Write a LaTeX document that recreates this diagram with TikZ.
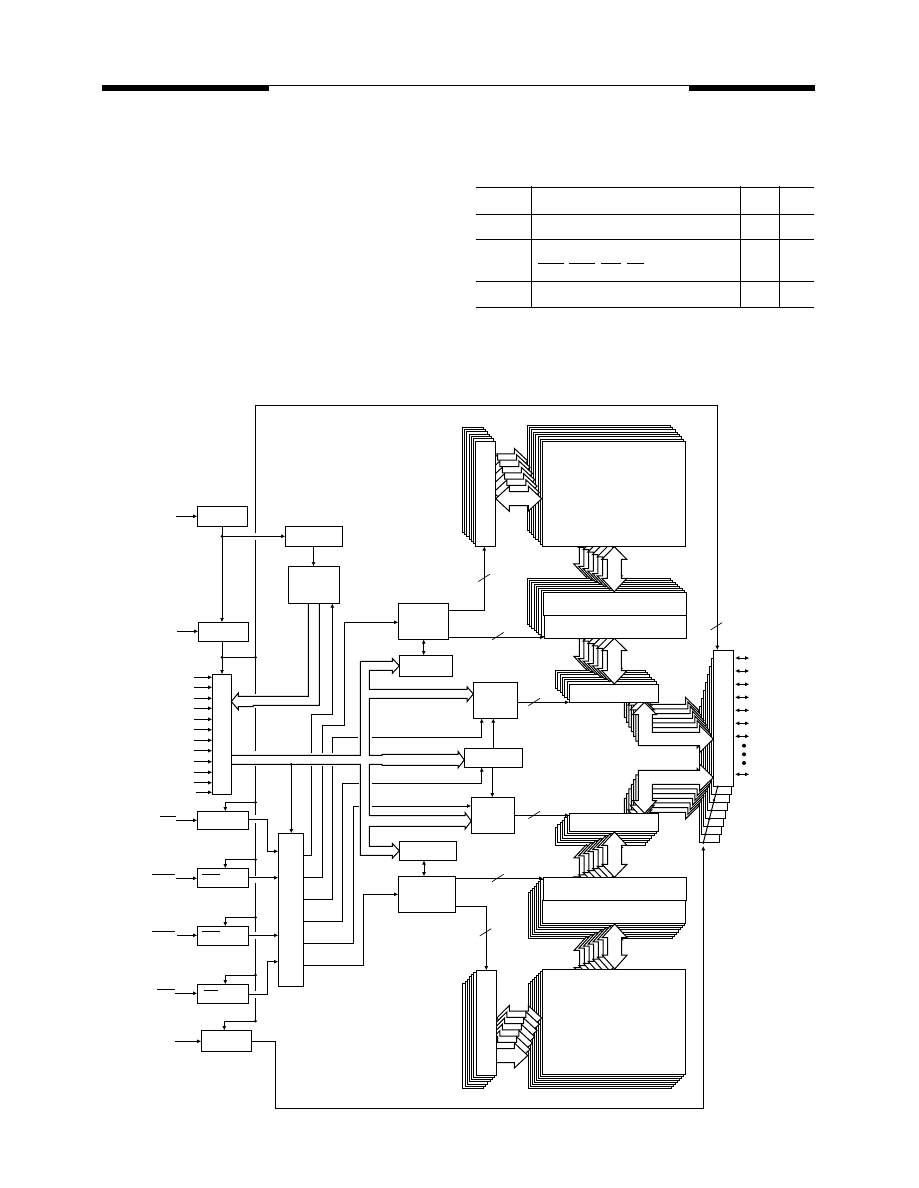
\documentclass[tikz,border=0pt]{standalone}
\usepackage{amsmath}
\usepackage{xcolor}
\usepackage{tikz}
\usetikzlibrary{calc,arrows.meta}

\tikzset{
  >={Latex[length=3.2pt,width=3pt]},
  block/.style={draw,fill=white,inner sep=0pt,outer sep=0pt},
  hollow/.style={draw,fill=white},
  tick/.style={line width=.5pt}
}

% a box given by its corners, in pixels of the page
\newcommand{\blockat}[5]{%
  \pgfmathsetlengthmacro\blockw{(#4-#2)*.75pt}%
  \pgfmathsetlengthmacro\blockh{(#5-#3)*.75pt}%
  \node[block,minimum width=\blockw,minimum height=\blockh] (#1) at ({(#2+#4)/2},{(#3+#5)/2}) {};
}
% the layers behind a box
\newcommand{\layers}[7]{%
  \foreach \i in {#7,...,1}{
    \draw[hollow,shift={({\i*(#5)},{\i*(#6)})}] (#1,#2) rectangle (#3,#4);
  }
}
% double headed wide arrows
\newcommand{\vbus}[5]{({#1},#2) -- ({#1+12.5},#3) -- ({#1+7},#3) -- ({#1+7},#4) -- ({#1+12.5},#4) -- ({#1},#5) -- ({#1-12.5},#4) -- ({#1-7},#4) -- ({#1-7},#3) -- ({#1-12.5},#3) -- cycle}
\newcommand{\hbus}[5]{(#2,{#1}) -- (#3,{#1-12.5}) -- (#3,{#1-7}) -- (#4,{#1-7}) -- (#4,{#1-12.5}) -- (#5,{#1}) -- (#4,{#1+12.5}) -- (#4,{#1+7}) -- (#3,{#1+7}) -- (#3,{#1+12.5}) -- cycle}
\newcommand{\busstack}[3]{%
  \foreach \i in {6,...,0}{
    \draw[hollow,shift={({\i*(#1)},{\i*(#2)})}] #3;
  }
}

\begin{document}
\begin{tikzpicture}[x=.75pt,y=-.75pt,line width=.75pt]
\useasboundingbox (0,0) rectangle (918,1188);

% page rule
\fill (102,85) rectangle (269,91);
\fill (689,85) rectangle (815,91);
\draw (269,86) -- (689,86);

% table
\foreach \y in {187.3,214.3,239,281.3,307.3}
  \draw (476,\y) -- (814,\y);
\foreach \x in {531.3,740.3,779.3}
  \draw (\x,186) -- (\x,308);
\foreach \xa/\xb in {537.7/564,569.3/595,601/621.3,627/644}
  \draw (\xa,263.3) -- (\xb,263.3);

% layers of the right column first
\layers{713.3}{650}{733.3}{786.3}{-2}{8}{7}

% bent wide arrows, upper and lower
\busstack{-2.33}{-4.67}{(644.5,702.3) -- (656.5,714.5) -- (652.3,714.5) -- (652.3,732.3) -- (699.5,732.3) -- (699.5,725.3) -- (713.3,739) -- (699.5,752.7) -- (699.5,745.7) -- (638.3,745.7) -- (638.3,714.5) -- (632.5,714.5) -- cycle}
\busstack{-2.33}{4.67}{(644.5,813.3) -- (656.5,800.5) -- (652.3,800.5) -- (652.3,784.3) -- (699.5,784.3) -- (699.5,791) -- (713.3,777.5) -- (699.5,763.8) -- (699.5,770.3) -- (638.3,770.3) -- (638.3,800.5) -- (632.5,800.5) -- cycle}

% layers of the banks
\layers{475.3}{441.3}{495.7}{546.3}{-2.1}{-2.33}{6}
\layers{542.3}{441.3}{685.7}{546.3}{-2.14}{-2.28}{7}
\layers{543.3}{592.3}{686.7}{638.3}{-2.3}{-2}{7}
\layers{569.3}{684.3}{658.7}{702.3}{-2.27}{-2.33}{6}
\layers{569.3}{813.3}{658.7}{831.3}{-2.27}{2.33}{6}
\layers{542.3}{877.3}{686}{923.3}{-2}{2.2}{7}
\layers{542.3}{969.3}{685.7}{1074.3}{-2}{2}{7}
\layers{476}{970.3}{496.7}{1075.3}{-2.2}{2.2}{6}

% wide arrows between the banks
\busstack{-2.33}{-6.3}{\hbus{498.7}{495.7}{509.3}{528.3}{541.7}}
\busstack{-4.67}{-2.4}{\vbus{614.3}{546.7}{559.3}{578.3}{591.7}}
\busstack{-4.67}{-2.4}{\vbus{614.3}{638.3}{650.7}{670.7}{684}}
\busstack{-4.67}{2.1}{\vbus{614.5}{832}{845.3}{864.3}{877.3}}
\busstack{-4.67}{2.1}{\vbus{614.7}{924}{937.7}{955}{969}}
\foreach \i in {0,...,6}{
  \draw[hollow,shift={({\i*(-2.33)},{\i*6.25})}] \hbus{1018}{496.7}{509.3}{528.3}{541.7};
}

% front boxes of the banks
\blockat{rowu}{475.3}{441.3}{495.7}{546.3}
\blockat{arrayu}{542.3}{441.3}{685.7}{546.3}
\blockat{latchua}{543.3}{592.3}{686.7}{615.3}
\blockat{latchub}{544.3}{615.3}{686.7}{638.3}
\blockat{banku}{569.3}{684.3}{658.7}{702.3}
\blockat{bankl}{569.3}{813.3}{658.7}{831.3}
\blockat{latchla}{543.3}{877.3}{686}{900.3}
\blockat{latchlb}{542.3}{900.3}{685.7}{923.3}
\blockat{arrayl}{542.3}{969.3}{685.7}{1074.3}
\blockat{rowl}{476}{970.3}{496.7}{1075.3}
\blockat{rcol}{713.3}{650}{733.3}{786.3}

% blocks on the left
\blockat{gatea}{197.3}{506.3}{247.7}{526.3}
\blockat{timer}{285.3}{526.3}{342.3}{546.3}
\blockat{counter}{288.3}{566.3}{339.3}{603.3}
\blockat{gateb}{198.3}{622.3}{248.3}{641.3}
\blockat{addr}{212.3}{674.3}{231.3}{794.3}
\blockat{ina}{197.3}{811.3}{248.3}{829.3}
\blockat{inb}{197.3}{868.3}{248.3}{887.3}
\blockat{inc}{197.3}{926.3}{248.3}{945.3}
\blockat{ind}{197.3}{984.3}{248.3}{1003.3}
\blockat{ine}{201.3}{1030.3}{251.3}{1051.3}
\blockat{decode}{278.3}{833.3}{303.7}{986.3}

% blocks in the middle
\blockat{ctrlu}{398.3}{603.3}{448.7}{639.3}
\blockat{latu}{399.3}{655.3}{452.7}{676.3}
\blockat{senseu}{473.3}{682.3}{517.3}{718.3}
\blockat{mid}{464.3}{748.3}{522.3}{767.3}
\blockat{sensel}{471.3}{797.3}{514.3}{833.3}
\blockat{latl}{399.3}{841.3}{456.7}{860.3}
\blockat{ctrll}{398.3}{876.3}{455.7}{912.3}

% outer line with its breaks
\foreach \ya/\yb in {540/694,708/751,766/815,823/876,883/932,939/991,998/1021}
  \draw (255.5,\ya) -- (255.5,\yb);
\draw[->] (255.5,533) -- (255.5,405) -- (717.3,405) -- (rcol.north -| 717.3,0);

% inputs
\draw[->] (176,516.3) -- (gatea.west |- 0,516.3);
\draw[->] (177,631.3) -- (gateb.west |- 0,631.3);
\foreach \y in {677.3,687.3,698.3,708.3,719.3,729.7,740.3,750.7,761.7,772.3,782.7}
  \draw[->] (194,\y) -- (addr.west |- 0,\y);
\draw[->] (196,792.3) -- (addr.west |- 0,792.3);
\draw[->] (176,820.3) -- (ina.west |- 0,820.3);
\draw[->] (176,878.3) -- (inb.west |- 0,878.3);
\draw[->] (177,935.3) -- (inc.west |- 0,935.3);
\draw[->] (175,993.3) -- (ind.west |- 0,993.3);
\draw[->] (175,1041.3) -- (ine.west |- 0,1041.3);

% bars over the names
\draw (160,816.3) -- (176,816.3);
\draw (152,874.6) -- (175,874.6);
\draw (202,874.3) -- (219.7,874.3);
\draw (152,931.3) -- (175,931.3);
\draw (202,931.3) -- (219.7,931.3);
\draw (157,989.3) -- (175,989.3);
\draw (204,990.3) -- (217.7,990.3);

% left column connections
\draw[->] (gatea.south -| 222,0) -- (gateb.north -| 222,0);
\draw[->] (222,536.3) -- (timer.west |- 0,536.3);
\draw[->] (timer.south -| 313.5,0) -- (counter.north -| 313.5,0);
\draw[->] (gateb.south -| 222,0) -- (addr.north -| 222,0);
\draw (222,657.3) -- (255.5,657.3);
\draw[->] (255.5,802.3) -- (225.3,802.3) -- (ina.north -| 225.3,0);
\draw[->] (255.5,859.7) -- (225.3,859.7) -- (inb.north -| 225.3,0);
\draw[->] (255.5,917.3) -- (225.3,917.3) -- (inc.north -| 225.3,0);
\draw[->] (255.5,975) -- (225.3,975) -- (ind.north -| 225.3,0);
\draw[->] (255.5,1021) -- (224.3,1021) -- (ine.north -| 224.3,0);

\draw[->] (ina.east |- 0,819.3) -- (267.3,819.3) -- (267.3,851.3) -- (decode.west |- 0,851.3);
\draw[->] (inb.east |- 0,877.7) -- (decode.west |- 0,877.7);
\draw[->] (inc.east |- 0,935.3) -- (decode.west |- 0,935.3);
\draw[->] (ind.east |- 0,994.3) -- (267.3,994.3) -- (267.3,961.7) -- (decode.west |- 0,961.7);
\draw[->] (291.3,764.3) -- (decode.north -| 291.3,0);

% wide arrow from the counter
\draw (counter.south -| 308.3,0) -- (308.3,696.3) -- (238.3,696.3) -- (238.3,693) -- (addr.east |- 0,701.5) -- (238.3,709.7) -- (238.3,706.7) -- (253,706.7) -- (253,705.3) -- (319.3,705.3) -- (counter.south -| 319.3,0);

% the wide bus, one run round all its branches
\draw (addr.east |- 0,755.3) -- (360.3,755.3) -- (360.3,661.3) -- (392.3,661.3) -- (392.3,658.3) -- (latu.west) -- (392.3,673.3) -- (392.3,670.3) -- (369.3,670.3)
  -- (369.3,689.3) -- (467,689.3) -- (467,686.7) -- (senseu.west |- 0,694) -- (467,701.7) -- (467,698.3) -- (369.3,698.3)
  -- (369.3,755.3) -- (382,755.3) -- (382,754.3) -- (458,754.3) -- (458,751.3) -- (mid.west |- 0,760) -- (458,768) -- (458,765.3) -- (382,765.3) -- (382,764.3) -- (369.3,764.3)
  -- (369.3,815.6) -- (465,815.6) -- (465,812.5) -- (sensel.west |- 0,821) -- (465,829.3) -- (465,826.3) -- (369.3,826.3)
  -- (369.3,846.3) -- (392.3,846.3) -- (392.3,843.3) -- (latl.west) -- (392.3,858.3) -- (392.3,855.3) -- (360.3,855.3) -- (360.3,764.3) -- (addr.east |- 0,764.3);

% lines out of the decoder, broken at the bus
\draw (decode.east |- 0,855.3) -- (311.3,855.3) -- (311.3,766);
\draw[->] (311.3,752.7) -- (311.3,714.3) -- (332.3,714.3) -- (counter.south -| 332.3,0);
\draw (decode.east |- 0,877.3) -- (322.3,877.3) -- (322.3,766);
\draw[->] (322.3,752.7) -- (322.3,725.3) -- (344.3,725.3) -- (344.3,622.3) -- (ctrlu.west |- 0,622.3);
\draw (decode.east |- 0,899.3) -- (332.3,899.3) -- (332.3,766);
\draw (332.3,752.7) -- (332.3,737.3) -- (358,737.3);
\draw[->] (372,737.3) -- (481.7,737.3) -- (senseu.south -| 481.7,0);
\draw (decode.east |- 0,921.3) -- (342.3,921.3) -- (342.3,783.3) -- (359,783.3);
\draw[->] (372,783.3) -- (481.7,783.3) -- (mid.south -| 481.7,0);
\draw (decode.east |- 0,943.3) -- (353.3,943.3) -- (353.3,806) -- (359,806);
\draw[->] (372,806) -- (sensel.west |- 0,806);
\draw[->] (decode.east |- 0,965.3) -- (363.3,965.3) -- (363.3,894.3) -- (ctrll.west |- 0,894.3);

% middle connections
\draw[<->] (ctrlu.south -| 423.7,0) -- (latu.north -| 423.7,0);
\draw[<->] (latl.south -| 424,0) -- (ctrll.north -| 424,0);
\draw[->] (mid.north -| 493.3,0) -- (senseu.south -| 493.3,0);
\draw[->] (mid.south -| 492.3,0) -- (sensel.north -| 492.3,0);
\draw[->] (ctrlu.east |- 0,610.3) -- (484.3,610.3) -- (rowu.south -| 484.3,0);
\draw[->] (ctrlu.east |- 0,637.3) -- (latchub.west |- 0,637.3);
\draw[->] (senseu.east |- 0,702.3) -- (banku.west |- 0,702.3);
\draw[->] (sensel.east |- 0,815.3) -- (bankl.west |- 0,815.3);
\draw[->] (ctrll.east |- 0,878.3) -- (latchla.west |- 0,878.3);
\draw[->] (ctrll.east |- 0,906.3) -- (486.3,906.3) -- (rowl.north -| 486.3,0);

% pin lines on the right
\foreach \y in {658,671,684.3,697.3,710.3,723.3,736.3,774.3}
  \draw[<->] (735,\y) -- (749.3,\y);
\foreach \y in {745.7,754.3,763}
  \fill (744,\y) circle (2);

% line up the layers of the column and back round the outside
\draw (rcol.south -| 717.7,0) -- (703.3,842.7);
\draw[<-] (703.3,846) -- (703.3,1108.5) -- (275.3,1108.5) -- (275.3,1041.3) -- (ine.east |- 0,1041.3);
\foreach \x/\y in {717.7/786.7,714/800,711.7/810.7,709.3/819,707.3/826.7,705.3/834.3,703.3/842.7}
  \fill (\x,\y) circle (1.3);

% joins
\foreach \x/\y in {222/536.3,222/657.3,255.5/657.3,291.3/764.3,255.5/802.3,255.5/859.7,255.5/917.3,255.5/975,255.5/1021}
  \fill (\x,\y) circle (1.5);

% bus width marks
\foreach \x/\y in {484.2/577.8,497.8/636.2,534.2/702,534.2/815,497.8/878,485.5/932.3,716.3/626.3}
  \draw[tick] ({\x-5.8},{\y+3.7}) -- ({\x+5.8},{\y-3.7});
\end{tikzpicture}
\end{document}
